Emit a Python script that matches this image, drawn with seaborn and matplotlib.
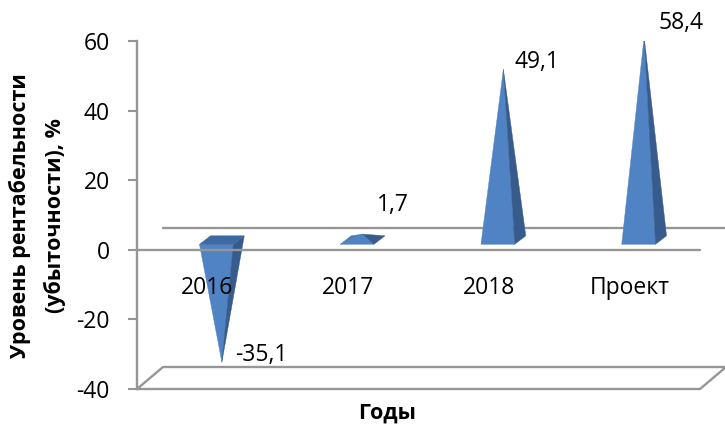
import numpy as np
import pandas as pd
import matplotlib
matplotlib.use("Agg")
import matplotlib.pyplot as plt
from matplotlib.patches import Polygon
import seaborn as sns

# ---- data ----
years = ["2016", "2017", "2018", "Проект"]
profitability = [-35.1, 1.7, 49.1, 58.4]
y_ticks = [-40, -20, 0, 20, 40, 60]

# ---- style ----
sns.set_theme(style="white")
plt.rcParams["font.family"] = ["Open Sans", "DejaVu Sans"]
plt.rcParams["axes.unicode_minus"] = False
plt.rcParams["text.color"] = "black"
plt.rcParams["axes.labelcolor"] = "black"
plt.rcParams["xtick.color"] = "black"
plt.rcParams["ytick.color"] = "black"

GRAY = "#969696"
FACE = {
    "front": "#4f83c3",
    "right": "#365b8c",
    "left": "#4a7bb8",
    "back": "#3b6396",
    "base": "#3e6aa3",
}

W, H = 725, 424
fig = plt.figure(figsize=(W / 100, H / 100), dpi=100)
fig.patch.set_facecolor("white")
ax = fig.add_axes([137 / W, 1 - 389 / H, (700 - 137) / W, (389 - 41) / H])

df = pd.DataFrame({"year": years, "value": profitability})
sns.barplot(data=df, x="year", y="value", width=0.24, errorbar=None, ax=ax)
ax.set_xlim(-0.5, 3.5)
ax.set_ylim(y_ticks[0], y_ticks[-1])
ax.set_axisbelow(False)

# pixel -> data unit scales
kx = ax.transData.transform((1, 0))[0] - ax.transData.transform((0, 0))[0]
ky = ax.transData.transform((0, 1))[1] - ax.transData.transform((0, 0))[1]

# pyramids sit a little behind the front plane; their square base has depth
sx, sy = 9 / kx, 5.5 / ky
Dx, Dy = 11 / kx, 8.5 / ky


def project(x, y, z):
    return (x + sx + z * Dx, y + sy + z * Dy)


label_offsets_px = [(13, 7), (14, 29), (11, 7), (14, 14)]

for bar, v, (ox, oy) in zip(list(ax.patches), profitability, label_offsets_px):
    x0 = bar.get_x()
    x1 = x0 + bar.get_width()
    h = bar.get_height()
    bar.set_visible(False)

    FL, FR, BR, BL = (x0, 0, 0), (x1, 0, 0), (x1, 0, 1), (x0, 0, 1)
    apex = ((x0 + x1) / 2, h, 0.5)
    sides = {
        "front": [FL, FR, apex],
        "right": [FR, BR, apex],
        "back": [BR, BL, apex],
        "left": [BL, FL, apex],
    }
    faces = [(n, p if h >= 0 else p[::-1]) for n, p in sides.items()]
    top = [FL, FR, BR, BL]
    faces.append(("base", top[::-1] if h >= 0 else top))

    for name, pts in faces:
        xy = np.array([project(*p) for p in pts])
        d = xy * np.array([kx, ky])
        area = 0.5 * np.sum(d[:, 0] * np.roll(d[:, 1], -1) - np.roll(d[:, 0], -1) * d[:, 1])
        if area > 0:
            ax.add_patch(Polygon(xy, closed=True, facecolor=FACE[name],
                                 edgecolor=FACE[name], lw=0.3, zorder=2))

    ax.annotate(f"{v:.1f}".replace(".", ","), xy=project(*apex),
                xytext=(ox * 0.72, oy * 0.72), textcoords="offset points",
                ha="left", va="center", fontsize=16.5, annotation_clip=False)

# walls: front zero line, back zero line and the floor
bx = 26 / (700 - 137)
by = 22 / ky
yt = ax.get_yaxis_transform()
ax.plot([0, 1], [0, 0], transform=yt, color=GRAY, lw=1.7, zorder=2.6, clip_on=False)
ax.plot([bx, 1 + bx], [by, by], transform=yt, color=GRAY, lw=1.7, zorder=1, clip_on=False)
floor_x = [0, 1, 1 + bx, bx, 0]
floor_y = [-40, -40, -40 + by, -40 + by, -40]
ax.plot(floor_x, floor_y, transform=yt, color=GRAY, lw=1.7, zorder=1, clip_on=False)

# axes
for s in ["top", "right", "bottom"]:
    ax.spines[s].set_visible(False)
ax.spines["left"].set_color(GRAY)
ax.spines["left"].set_linewidth(1.7)

ax.set_yticks(y_ticks)
ax.set_yticklabels([str(t) for t in y_ticks])
ax.tick_params(axis="y", left=True, length=6.5, width=1.5, color=GRAY, pad=13, labelsize=16.5)
ax.set_xticks(range(len(years)))
ax.set_xticklabels(years)
ax.tick_params(axis="x", bottom=True, length=0, pad=-81, labelsize=16.5)

ax.set_xlabel("Годы", fontsize=15.5, fontweight="bold")
ax.xaxis.set_label_coords((387 - 137) / (700 - 137), (389 - 413) / (389 - 41))
ax.xaxis.label.set_va("center")

ax.set_ylabel("Уровень рентабельности\n(убыточности), %", fontsize=15.5,
              fontweight="bold", linespacing=1.75)
ax.yaxis.set_label_coords((37 - 137) / (700 - 137), (389 - 216) / (389 - 41))
ax.yaxis.label.set_va("center")
ax.yaxis.label.set_multialignment("center")

fig.savefig("out.png", dpi=100)
